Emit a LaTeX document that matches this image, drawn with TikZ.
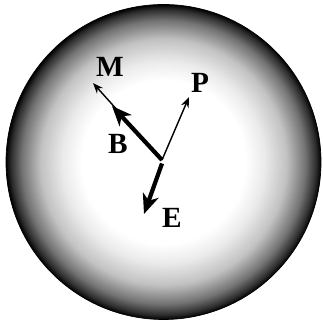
\documentclass[tikz,border=0pt]{standalone}
\usepackage{fontspec}
\setmainfont{Liberation Serif}
\usetikzlibrary{arrows.meta}
\pgfdeclareradialshading{ballshade}{\pgfpoint{0bp}{0bp}}{%
  color(0bp)=(white); color(13bp)=(white); color(16bp)=(black!8);
  color(19.5bp)=(black!24); color(22.5bp)=(black!55); color(24.2bp)=(black!82);
  color(25bp)=(black); color(50bp)=(black)}

\begin{document}
\begin{tikzpicture}[x=0.03cm, y=-0.03cm,
    LBL/.style={font=\fontsize{25}{28}\selectfont\bfseries, inner sep=0pt},
    THIN/.style={-{Stealth[length=9pt, width=7pt]}, line width=1.2pt},
    THICK/.style={-{Stealth[length=17pt, width=14pt, inset=5pt]}, line width=3.6pt}]
    \useasboundingbox (0,0) rectangle (323,320);
    % sphere
    \shade[shading=ballshade] (163.5,162) circle (157.5);
    \draw[line width=0.6pt] (163.5,162) circle (157.5);
    \coordinate (O) at (162,160);
    \coordinate (m) at (93,83);
    \coordinate (b) at (112,106);
    \coordinate (p) at (189,97);
    \coordinate (e) at (144,214);
    \node[LBL] (M) at (110,67) {M};
    \node[LBL] (P) at (200,83) {P};
    \node[LBL] (B) at (118,144) {B};
    \node[LBL] (E) at (172,218) {E};
    \draw[THIN] (O) -- (m);
    \draw[THICK] (O) -- (b);
    \draw[THIN] (O) -- (p);
    \draw[THICK] ([yshift=-3]O) -- (e);
\end{tikzpicture}
\end{document}
